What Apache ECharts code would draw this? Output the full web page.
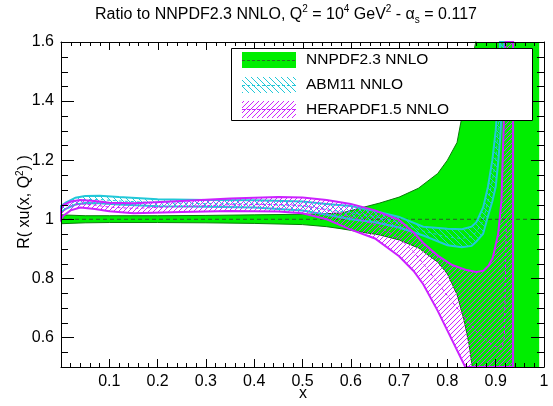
<!DOCTYPE html>
<html><head><meta charset="utf-8">
<script src="https://cdn.jsdelivr.net/npm/echarts@6/dist/echarts.min.js"></script>
<style>html,body{margin:0;padding:0;background:#fff}#c{width:553px;height:406px}</style>
</head><body><div id="c"></div>
<script>
// ---------------- data ----------------
const xMajorTicks = [0,0.1,0.2,0.3,0.4,0.5,0.6,0.7,0.8,0.9,1];
const xMinorTicks = [0.02,0.04,0.06,0.08,0.12,0.14,0.16,0.18,0.22,0.24,0.26,0.28,0.32,0.34,0.36,0.38,0.42,0.44,0.46,0.48,
                     0.52,0.54,0.56,0.58,0.62,0.64,0.66,0.68,0.72,0.74,0.76,0.78,0.82,0.84,0.86,0.88,0.92,0.94,0.96,0.98];
const yMajorTicks = [0.6,0.8,1.0,1.2,1.4,1.6];
const yMinorTicks = [0.55,0.65,0.7,0.75,0.85,0.9,0.95,1.05,1.1,1.15,1.25,1.3,1.35,1.45,1.5,1.55];

// NNPDF2.3 NNLO (reference, ratio band)
const nnX    = [0,0.05,0.1,0.2,0.3,0.4,0.5,0.55,0.58,0.62,0.66,0.70,0.74,0.78,0.80,0.82,0.835,0.845,0.86,0.88,0.99];
const nnLow  = [0.985,0.988,0.989,0.989,0.988,0.986,0.982,0.975,0.968,0.957,0.947,0.93,0.903,0.855,0.815,0.745,0.655,0.575,0.40,0.30,0.30];
const nnUp   = [1.015,1.012,1.012,1.012,1.013,1.015,1.017,1.019,1.021,1.038,1.055,1.075,1.105,1.155,1.20,1.26,1.39,1.49,1.61,1.90,1.90];
const nnCX   = [0,1];
const nnMid  = [1,1];

// ABM11 NNLO
const abX    = [0,0.01,0.03,0.05,0.08,0.12,0.2,0.3,0.4,0.5,0.55,0.6,0.65,0.7,0.75,0.8,0.83,0.85,0.86,0.874,0.884,0.893,0.9,0.905,0.909,0.913,0.917,0.922];
const abLow  = [1.025,1.035,1.05,1.055,1.054,1.05,1.044,1.042,1.04,1.03,1.015,1.0,0.99,0.972,0.945,0.912,0.905,0.91,0.925,0.951,1.01,1.06,1.11,1.19,1.27,1.38,1.6,1.9];
const abUp   = [1.045,1.056,1.073,1.079,1.08,1.075,1.068,1.065,1.064,1.06,1.052,1.045,1.028,1.008,0.975,0.968,0.966,0.975,0.99,1.04,1.11,1.2,1.3,1.41,1.6,1.8,2.0,2.3];
const abMid  = [1.035,1.045,1.061,1.067,1.067,1.062,1.056,1.053,1.052,1.045,1.033,1.022,1.009,0.99,0.96,0.94,0.935,0.942,0.957,0.995,1.06,1.13,1.2,1.3,1.43,1.6,1.8,2.1];

// HERAPDF1.5 NNLO
const heX    = [0,0.005,0.02,0.04,0.07,0.1,0.15,0.25,0.35,0.45,0.5,0.55,0.6,0.65,0.7,0.73,0.75,0.78,0.81,0.84,0.86,0.875,0.885,0.894,0.905,0.912,0.918,0.922,0.936];
const heLow  = [1.0,1.012,1.03,1.04,1.035,1.027,1.02,1.025,1.028,1.026,1.02,1.0,0.965,0.935,0.875,0.825,0.78,0.69,0.59,0.49,0.42,0.38,0.34,0.3,0.25,0.2,0.1,0.0,0.0];
const heUp   = [1.035,1.048,1.06,1.065,1.062,1.056,1.054,1.062,1.07,1.075,1.074,1.065,1.052,1.03,0.998,0.955,0.92,0.877,0.845,0.828,0.822,0.826,0.842,0.87,0.95,1.064,1.4,1.8,1.8];
const heCX   = [0,0.005,0.02,0.04,0.07,0.1,0.15,0.25,0.35,0.45,0.5,0.55,0.6,0.65,0.7,0.73,0.75,0.78,0.81,0.84,0.86,0.875,0.885,0.894,0.905,0.912,0.918,0.922];
const heMid  = [1.018,1.03,1.045,1.052,1.048,1.041,1.037,1.043,1.049,1.05,1.047,1.032,1.008,0.982,0.937,0.89,0.85,0.785,0.72,0.66,0.62,0.6,0.585,0.575,0.565,0.56,0.6,1.0];

// ---------------- styling ----------------
const FF = '"Liberation Sans", Arial, Helvetica, sans-serif';
const GREEN = '#00ee00', DKGREEN = '#0a7a0a', CYAN = '#22c8d8', MAG = '#cc22ff';

function hatch(color, dir, size) {
  const c = document.createElement('canvas');
  c.width = size; c.height = size;
  const g = c.getContext('2d');
  g.strokeStyle = color; g.lineWidth = 1;
  g.beginPath();
  if (dir === '/') {
    g.moveTo(0, size); g.lineTo(size, 0);
    g.moveTo(-1, 1); g.lineTo(1, -1);
    g.moveTo(size - 1, size + 1); g.lineTo(size + 1, size - 1);
  } else {
    g.moveTo(0, 0); g.lineTo(size, size);
    g.moveTo(-1, size - 1); g.lineTo(1, size + 1);
    g.moveTo(size - 1, -1); g.lineTo(size + 1, 1);
  }
  g.stroke();
  return {image: c, repeat: 'repeat'};
}
const abPat = hatch(CYAN, '\\', 6);
const hePat = hatch(MAG, '/', 5);

function clipPoly(pts, x0, y0, x1, y1) {
  const edges = [
    [p => p[0] >= x0, (a, b) => { const t = (x0 - a[0]) / (b[0] - a[0]); return [x0, a[1] + t * (b[1] - a[1])]; }],
    [p => p[0] <= x1, (a, b) => { const t = (x1 - a[0]) / (b[0] - a[0]); return [x1, a[1] + t * (b[1] - a[1])]; }],
    [p => p[1] >= y0, (a, b) => { const t = (y0 - a[1]) / (b[1] - a[1]); return [a[0] + t * (b[0] - a[0]), y0]; }],
    [p => p[1] <= y1, (a, b) => { const t = (y1 - a[1]) / (b[1] - a[1]); return [a[0] + t * (b[0] - a[0]), y1]; }]
  ];
  let out = pts;
  for (const [inside, inter] of edges) {
    const inp = out; out = [];
    if (!inp.length) break;
    let prev = inp[inp.length - 1];
    for (const cur of inp) {
      if (inside(cur)) { if (!inside(prev)) out.push(inter(prev, cur)); out.push(cur); }
      else if (inside(prev)) out.push(inter(prev, cur));
      prev = cur;
    }
  }
  return out;
}

function bandSeries(name, xs, lo, hi, style, z) {
  return {
    type: 'custom', name, coordinateSystem: 'cartesian2d', silent: true, z,
    data: [[xs[0], lo[0]]],
    renderItem: function (params, api) {
      const pts = [];
      for (let i = 0; i < xs.length; i++) pts.push(api.coord([xs[i], lo[i]]));
      for (let i = xs.length - 1; i >= 0; i--) pts.push(api.coord([xs[i], hi[i]]));
      const cs = params.coordSys;
      const clipped = clipPoly(pts, cs.x, cs.y, cs.x + cs.width, cs.y + cs.height);
      return {type: 'polygon', shape: {points: clipped}, style: style};
    }
  };
}
function lineSeries(xs, ys, color, width, dash, z) {
  return {
    type: 'line', data: xs.map((x, i) => [x, ys[i]]), showSymbol: false, symbol: 'none',
    clip: true, silent: true, z,
    lineStyle: {color, width, type: dash ? dash : 'solid'}
  };
}

function xAx(pos, showLabel) {
  return {
    type: 'value', min: 0, max: 1, interval: 0.1, position: pos, z: 10,
    axisLine: {show: true, onZero: false, lineStyle: {color: '#000', width: 1}},
    axisTick: {show: showLabel, inside: true, length: 8, lineStyle: {color: '#000'}},
    minorTick: {show: showLabel, splitNumber: 5, length: 4, lineStyle: {color: '#000'}},
    axisLabel: {show: showLabel, color: '#000', fontFamily: FF, fontSize: 16, margin: 7,
      formatter: v => (v === 0 ? '' : String(Math.round(v * 10) / 10))},
    splitLine: {show: false}, minorSplitLine: {show: false}
  };
}
function yAx(pos, showLabel) {
  return {
    type: 'value', min: 0.5, max: 1.6, position: pos, z: 11,
    axisLine: {show: true, onZero: false, lineStyle: {color: '#000', width: 1}},
    axisTick: {show: showLabel, inside: true, length: 13, customValues: yMajorTicks, lineStyle: {color: '#000'}},
    axisLabel: {show: showLabel, color: '#000', fontFamily: FF, fontSize: 16, margin: 7,
      customValues: yMajorTicks, formatter: v => String(Math.round(v * 10) / 10)},
    splitLine: {show: false}
  };
}

const staticGraphic = [
  {type: 'text', x: 286, y: 15, z: 100, style: {
    text: 'Ratio to NNPDF2.3 NNLO, Q{sup|2} = 10{sup|4} GeV{sup|2} - α{sub|s} = 0.117',
    font: '16px ' + FF, fill: '#000', align: 'center', verticalAlign: 'middle',
    rich: {sup: {fontSize: 10, fontFamily: FF, verticalAlign: 'top', lineHeight: 21},
           sub: {fontSize: 10, fontFamily: FF, verticalAlign: 'bottom', lineHeight: 21}}}},
  {type: 'text', x: 25, y: 202, rotation: Math.PI / 2, z: 100, style: {
    text: 'R( xu(x, Q{sup|2}) )', font: '16px ' + FF, fill: '#000', align: 'center', verticalAlign: 'middle',
    rich: {sup: {fontSize: 10, fontFamily: FF, verticalAlign: 'top', lineHeight: 20}}}},
  {type: 'text', x: 303, y: 394, z: 100, style: {text: 'x', font: '16px ' + FF, fill: '#000', align: 'center', verticalAlign: 'middle'}},
  // legend
  {type: 'rect', z: 100, shape: {x: 231.5, y: 48.5, width: 301, height: 72}, style: {fill: '#fff', stroke: '#000', lineWidth: 1}},
  {type: 'rect', z: 101, shape: {x: 242, y: 52, width: 54, height: 16}, style: {fill: GREEN}},
  {type: 'line', z: 102, shape: {x1: 242, y1: 60.5, x2: 296, y2: 60.5}, style: {stroke: '#2a6a2a', lineWidth: 1, lineDash: [3, 2]}},
  {type: 'rect', z: 101, shape: {x: 242, y: 77, width: 54, height: 16}, style: {fill: abPat}},
  {type: 'line', z: 102, shape: {x1: 242, y1: 85.5, x2: 296, y2: 85.5}, style: {stroke: CYAN, lineWidth: 1, lineDash: [3, 2]}},
  {type: 'rect', z: 101, shape: {x: 242, y: 101, width: 54, height: 17}, style: {fill: hePat}},
  {type: 'line', z: 102, shape: {x1: 242, y1: 109.5, x2: 296, y2: 109.5}, style: {stroke: MAG, lineWidth: 1, lineDash: [3, 2]}},
  {type: 'text', z: 102, x: 306, y: 60, style: {text: 'NNPDF2.3 NNLO', font: '15.5px ' + FF, fill: '#000', verticalAlign: 'middle'}},
  {type: 'text', z: 102, x: 306, y: 85, style: {text: 'ABM11 NNLO', font: '15.5px ' + FF, fill: '#000', verticalAlign: 'middle'}},
  {type: 'text', z: 102, x: 306, y: 110, style: {text: 'HERAPDF1.5 NNLO', font: '15.5px ' + FF, fill: '#000', verticalAlign: 'middle'}}
];

const chart = echarts.init(document.getElementById('c'), null, {renderer: 'canvas'});
chart.setOption({
  animation: false,
  backgroundColor: '#fff',
  grid: {left: 61, right: 9, top: 42, bottom: 39, containLabel: false},
  xAxis: [xAx('bottom', true), xAx('top', false)],
  yAxis: [yAx('left', true), yAx('right', false)],
  series: [
    bandSeries('NNPDF2.3 NNLO', nnX, nnLow, nnUp, {fill: GREEN, stroke: null}, 1),
    lineSeries(nnX, nnLow, DKGREEN, 1, null, 2),
    lineSeries(nnX, nnUp, DKGREEN, 1, null, 2),
    lineSeries(nnCX, nnMid, '#2a5a2a', 1, [4, 3], 3),
    bandSeries('ABM11 NNLO', abX, abLow, abUp, {fill: abPat, stroke: CYAN, lineWidth: 2}, 4),
    lineSeries(abX, abMid, CYAN, 1, [3, 3], 4),
    bandSeries('HERAPDF1.5 NNLO', heX, heLow, heUp, {fill: hePat, stroke: MAG, lineWidth: 2}, 5),
    lineSeries(heCX, heMid, MAG, 1, [3, 3], 5)
  ],
  graphic: staticGraphic
});

// ROOT-style mirrored frame ticks, positioned through the chart's own axis scales
(function addFrameTicks() {
  const toPx = (x, y) => chart.convertToPixel({xAxisIndex: 0, yAxisIndex: 0}, [x, y]);
  const [L, B] = toPx(0, 0.5);
  const [R, T] = toPx(1, 1.6);
  const ticks = [];
  const add = (x1, y1, x2, y2) => ticks.push({type: 'line', z: 50, silent: true,
    shape: {x1, y1, x2, y2}, style: {stroke: '#000', lineWidth: 1}});
  const cx = v => Math.round(toPx(v, 1)[0]) + 0.5;
  const cy = v => Math.round(toPx(0.5, v)[1]) + 0.5;
  xMajorTicks.forEach(v => add(cx(v), T, cx(v), T + 8));
  xMinorTicks.forEach(v => add(cx(v), T, cx(v), T + 4));
  yMinorTicks.forEach(v => { add(L, cy(v), L + 7, cy(v)); add(R, cy(v), R - 7, cy(v)); });
  yMajorTicks.forEach(v => add(R, cy(v), R - 13, cy(v)));
  chart.setOption({graphic: staticGraphic.concat(ticks)}, {replaceMerge: ['graphic']});
})();
</script></body></html>
